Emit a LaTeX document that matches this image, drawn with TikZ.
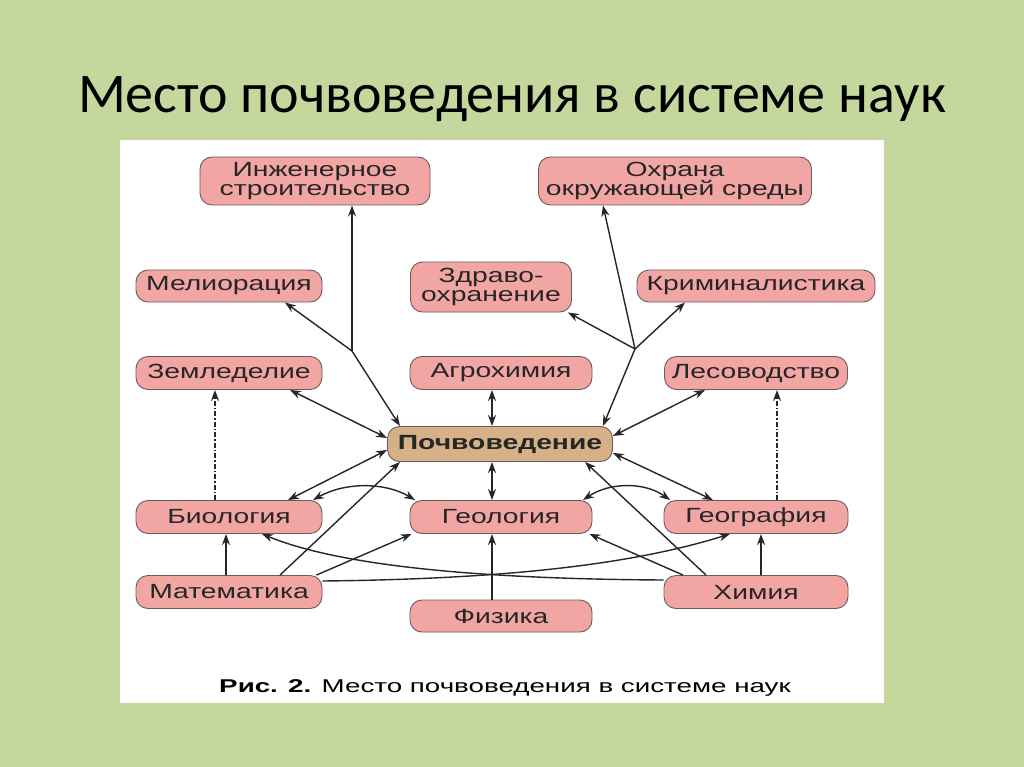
\documentclass[tikz,border=0pt]{standalone}
\usepackage{fontspec}
\setmainfont{Carlito}
\newfontfamily\nf[FakeStretch=1.38]{Liberation Sans}
\newfontfamily\cf[FakeStretch=1.5]{Liberation Sans}
\usetikzlibrary{arrows.meta}
\definecolor{bggreen}{RGB}{196,215,157}
\definecolor{boxpink}{RGB}{242,166,164}
\definecolor{boxtan}{RGB}{214,176,134}
\definecolor{boxline}{RGB}{110,90,90}
\tikzset{
  sci/.style={draw=boxline, line width=0.9pt, fill=boxpink, rounded corners=12pt,
    inner sep=0pt, align=center, font=\nf\fontsize{20.5}{19.5}\selectfont, text=black!85},
  core/.style={sci, fill=boxtan, font=\nf\bfseries\fontsize{20.5}{19.5}\selectfont},
  con/.style={line width=1.4pt, black!85},
  tip/.style={con, -{Stealth[length=11pt,width=8pt]}},
  both/.style={con, {Stealth[length=11pt,width=8pt]}-{Stealth[length=11pt,width=8pt]}},
  dd/.style={tip, dash pattern=on 5pt off 2pt on 1.5pt off 2pt}
}
\begin{document}
\begin{tikzpicture}[x=1pt,y=-1pt]
\useasboundingbox (0,0) rectangle (1024,767);
\fill[bggreen] (0,0) rectangle (1024,767);
\fill[white] (120,140) rectangle (884,703);
\node[anchor=base, font=\fontsize{56}{60}\selectfont] (title) at (512,113) {Место почвоведения в системе наук};
% nodes
\node[sci, minimum width=230pt, minimum height=48pt] (inzh) at (315,181) {Инженерное\\строительство};
\node[sci, minimum width=273pt, minimum height=48pt] (ohr) at (675,181) {Охрана\\окружающей среды};
\node[sci, minimum width=186pt, minimum height=32pt] (mel) at (229,286) {Мелиорация};
\node[sci, minimum width=161pt, minimum height=50pt] (zdr) at (491,287) {Здраво-\\охранение};
\node[sci, minimum width=238pt, minimum height=32pt] (krim) at (756,286) {Криминалистика};
\node[sci, minimum width=186pt, minimum height=33pt] (zem) at (229,373) {Земледелие};
\node[sci, minimum width=182pt, minimum height=33pt] (agro) at (501,373) {Агрохимия};
\node[sci, minimum width=183pt, minimum height=33pt] (les) at (756,373) {Лесоводство};
\node[core, minimum width=225pt, minimum height=35pt] (poch) at (500,444) {Почвоведение};
\node[sci, minimum width=186pt, minimum height=33pt] (bio) at (229,517) {Биология};
\node[sci, minimum width=182pt, minimum height=33pt] (geol) at (501,517) {Геология};
\node[sci, minimum width=184pt, minimum height=33pt] (geog) at (756,517) {География};
\node[sci, minimum width=186pt, minimum height=33pt] (mat) at (229,592) {Математика};
\node[sci, minimum width=182pt, minimum height=32pt] (fiz) at (501,616) {Физика};
\node[sci, minimum width=184pt, minimum height=33pt] (him) at (756,592) {Химия};
\node[anchor=base, font=\cf\fontsize{18.5}{20}\selectfont] (cap) at (505,692) {\textbf{Рис. 2.} Место почвоведения в системе наук};
% junctions
\coordinate (jl) at (352,351);
\coordinate (jr) at (635,349);
% upper connectors
\draw[tip] (jl) -- ([xshift=-100pt]poch.north);
\draw[tip] (jl) -- (jl |- inzh.south);
\draw[tip] (jl) -- ([xshift=56pt]mel.south);
\draw[both] ([xshift=61pt]zem.south) -- ([yshift=6pt]poch.west);
\draw[both] ([xshift=-9pt]agro.south) -- ([xshift=-8pt]poch.north);
\draw[tip] (jr) -- ([xshift=-10pt]poch.north east);
\draw[tip] (jr) -- ([xshift=-72pt]ohr.south);
\draw[tip] (jr) -- ([xshift=-4pt]zdr.south east);
\draw[tip] (jr) -- ([xshift=-71pt]krim.south);
\draw[both] ([xshift=-51pt]les.south) -- ([yshift=8pt]poch.east);
% dash-dotted
\draw[dd] ([xshift=-14pt]bio.north) -- ([xshift=-14pt]zem.south);
\draw[dd] ([xshift=21pt]geog.north) -- ([xshift=21pt]les.south);
% lower connectors
\draw[both] ([xshift=59pt]bio.north) -- ([yshift=-6pt]poch.west);
\draw[both] ([xshift=84pt]bio.north) .. controls (345,482) and (385,482) .. ([xshift=-86pt]geol.north);
\draw[both] ([xshift=82pt]geol.north) .. controls (610,482) and (645,482) .. ([xshift=-86pt]geog.north);
\draw[both] ([xshift=-9pt]geol.north) -- ([xshift=-8pt]poch.south);
\draw[both] ([yshift=-9pt]poch.east) -- ([xshift=-43pt]geog.north);
\draw[tip] ([xshift=51pt]mat.north) -- ([xshift=-100pt]poch.south);
\draw[tip] ([xshift=-3pt]mat.north) -- ([xshift=-3pt]bio.south);
\draw[tip] ([xshift=-6pt]mat.north east) -- ([xshift=2pt]geol.south west);
\draw[tip] ([yshift=11pt]mat.east) .. controls (520,579) and (640,562) .. ([xshift=-26pt]geog.south);
\draw[tip] ([yshift=12pt]him.west) .. controls (480,579) and (340,566) .. ([xshift=33pt]bio.south);
\draw[tip] ([xshift=-73pt]him.north) -- ([xshift=-3pt]geol.south east);
\draw[tip] ([xshift=-50pt]him.north) -- ([xshift=85pt]poch.south);
\draw[tip] ([xshift=-9pt]fiz.north) -- ([xshift=-9pt]geol.south);
\draw[tip] ([xshift=5pt]him.north) -- ([xshift=5pt]geog.south);
\end{tikzpicture}
\end{document}
